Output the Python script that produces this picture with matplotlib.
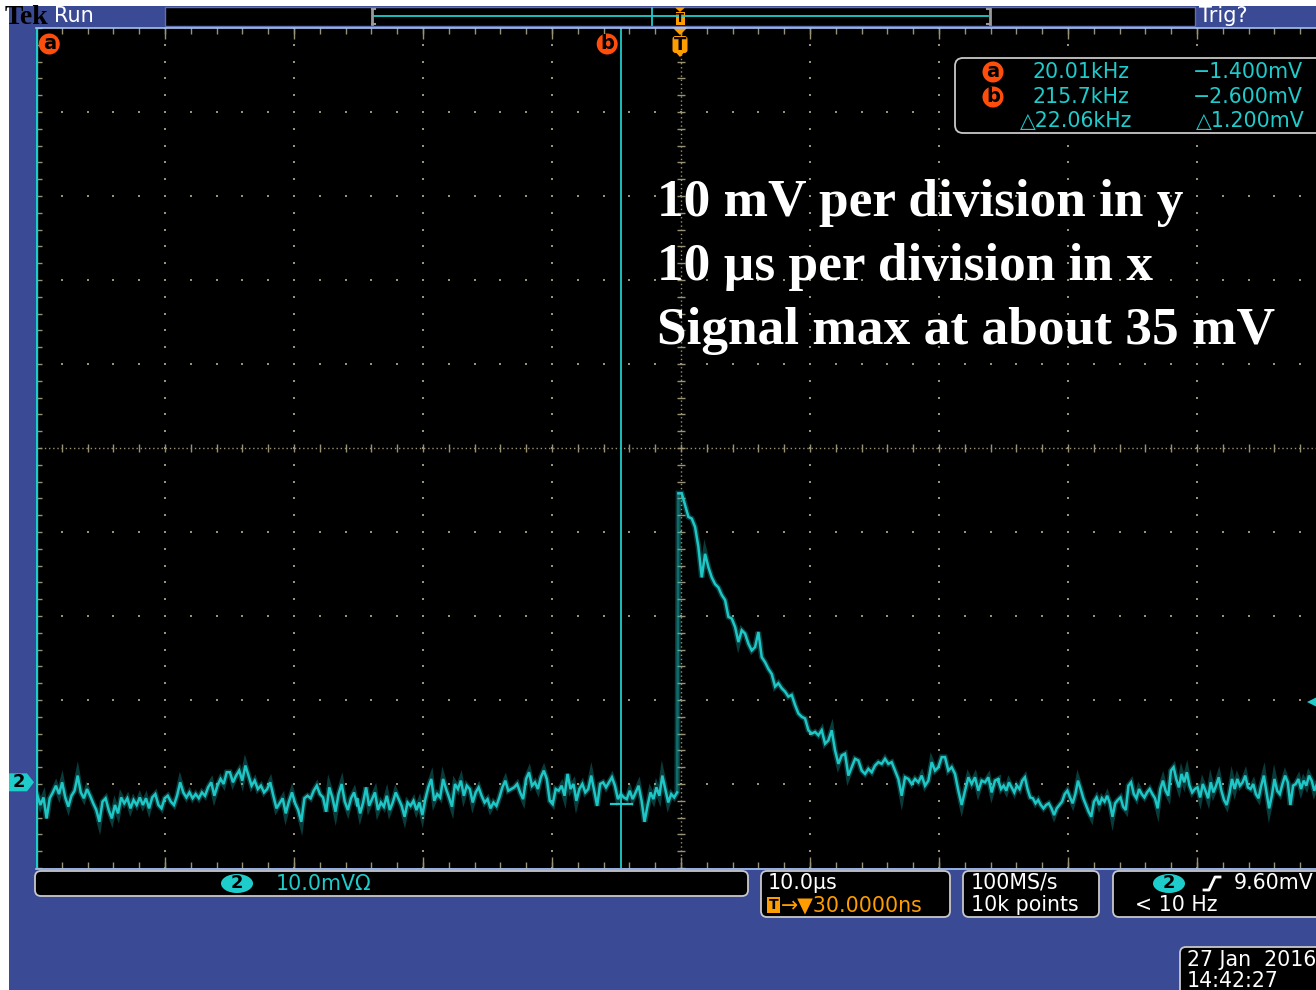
import numpy as np
import matplotlib
matplotlib.use("Agg")
import matplotlib.pyplot as plt
from matplotlib.patches import FancyBboxPatch, Rectangle, Circle, Polygon, Ellipse

# ---- acquisition / display settings ----
MV_PER_DIV = 10.0
US_PER_DIV = 10.0
CH2_POSITION_DIV = -3.98          # channel 2 ground marker, divisions from centre
TRIGGER_LEVEL_MV = 9.60
CURSOR_A_US = -49.98
CURSOR_B_US = -4.636
CURSOR_B_MV = -2.600

# ---- channel 2 record (mV), stored in four consecutive stretches ----
segment_spans_us = [(-49.9, -25.1), (-25.1, -0.3), (-0.2, 24.6), (24.6, 49.3)]

ch2_seg1_mv = [-1.5, -2.7, -1.8, -4.3, -1.9, -1.2, -0.4, -1.4, 0.0, -1.8, -2.9, -1.6, -1.0, 0.8,
               -1.2, -1.9, -0.8, -1.6, -2.5, -3.3, -4.7, -2.3, -1.9, -3.3, -4.3, -2.7, -3.7, -1.8,
               -2.5, -1.9, -3.1, -2.1, -2.7, -1.8, -2.7, -1.9, -3.1, -1.8, -1.4, -2.7, -3.1, -1.9,
               -1.6, -2.3, -2.7, -1.6, 0.0, -1.2, -1.8, -1.2, -1.9, -1.4, -1.9, -1.2, -1.6, -0.6,
               0.0, -1.6, -0.4, 0.4, -0.2, 1.2, 1.2, 0.0, 0.8, 1.4, 0.2, 2.0, 0.8, -0.4, 0.2, -0.8,
               -0.4, -1.2, -0.8, 0.0, -1.6, -3.1, -2.5, -1.9, -3.7, -2.3, -1.2, -2.5, -3.3, -4.7,
               -1.9, -1.6, -1.9, -1.0, -0.4, -1.4, -1.8, -3.5, -0.6, -1.8, -3.5, -1.4, -0.2, -2.3,
               -3.3, -1.9, -1.2, -2.7]

ch2_seg2_mv = [-2.0, -3.7, -2.4, -0.6, -2.8, -2.0, -1.2, -3.3, -2.4, -2.9, -1.6, -3.3, -2.4, -1.2,
               -2.0, -2.8, -4.1, -2.4, -2.8, -2.2, -3.3, -2.4, -3.9, -2.0, -0.6, 0.4, -2.2, -1.4,
               -1.8, 0.4, -0.8, -1.8, -2.9, -0.2, -0.8, 0.2, -1.6, -0.4, -0.8, -2.4, -1.2, -0.6,
               -1.6, -2.4, -2.0, -3.1, -2.4, -2.8, -1.8, -0.6, 0.2, -1.0, -0.8, -0.6, -0.2, -1.2,
               -2.0, 0.4, 1.2, -0.4, 0.0, -0.8, 0.6, 1.4, 0.4, -2.2, -2.6, -0.8, -1.0, -0.4, -1.6,
               1.0, -0.8, -0.2, -2.2, -0.8, -0.2, -1.2, -0.8, 0.8, -1.0, -2.8, -0.2, 0.0, -0.6, 0.0,
               0.6, -0.4, -2.0, -1.4, -1.8, -2.0, -1.0, -2.0, -1.2, -0.4, -2.2, -4.7, -2.8, -1.2,
               -2.0, -0.6, -1.6, 0.8, -0.8, -2.4, -1.4, -1.8, -1.2]

ch2_seg3_mv = [34.4, 34.4, 33.0, 31.6, 31.4, 30.4, 28.0, 24.4, 27.2, 25.6, 24.4, 23.6, 23.2, 22.3,
               21.7, 19.7, 19.5, 18.5, 16.7, 18.1, 17.7, 16.5, 15.7, 16.1, 17.9, 14.9, 14.3, 13.5,
               12.9, 11.4, 11.8, 11.2, 10.8, 10.2, 10.4, 9.2, 8.2, 7.8, 7.6, 6.2, 5.8, 6.0, 5.6,
               6.2, 4.6, 5.0, 6.2, 3.8, 2.2, 3.2, 3.4, 0.8, 1.8, 2.8, 2.6, 1.4, 1.0, 1.6, 1.2, 2.0,
               2.4, 2.2, 2.8, 2.2, 2.4, 1.4, 0.4, -1.6, 0.6, 0.4, -0.2, 0.4, 0.0, 0.8, -0.4, 0.2,
               2.4, 1.4, 1.8, 3.0, 3.0, 1.4, 1.8, 1.0, -1.0, -2.7, -1.0, 0.6, -0.2, 0.6, -1.0, 0.2,
               0.0, 0.6, -1.2, 0.2, 0.4]

ch2_seg4_mv = [0.2, -0.8, -0.4, -1.0, 0.0, -0.6, -1.2, -0.4, -0.8, 0.2, 0.6, -0.8, -1.8, -1.9,
               -2.5, -2.1, -2.7, -3.1, -2.7, -2.5, -3.1, -3.9, -3.1, -2.7, -2.3, -1.4, -1.0, -1.8,
               -2.5, -1.4, 0.2, -0.8, -1.9, -2.7, -3.5, -4.1, -2.3, -1.8, -2.7, -1.9, -2.3, -1.6,
               -2.5, -4.1, -2.5, -2.1, -1.8, -2.9, -3.3, -0.4, 0.0, -1.4, -1.9, -0.8, -1.4, -1.8,
               -1.2, -0.8, -1.4, -1.9, -3.1, -0.8, 0.2, -1.0, -1.6, 1.4, 1.8, 0.4, -0.6, 1.0, 0.0,
               1.2, -0.4, -1.2, -0.8, -0.6, -1.8, -0.2, -1.0, -1.9, 0.0, -1.2, -0.4, 0.6, -1.0,
               -2.1, -2.7, -1.4, 0.4, -0.8, 0.4, -0.4, 0.0, 0.8, -0.6, -0.8, -0.2, -1.4, -1.9,
               -0.4, 0.8, -1.2, -3.1, -1.6, 0.4, -1.0, -1.4, -0.2, 0.8, 0.0, -2.7, -0.4, -0.2, 0.4,
               -0.8, 0.2, -0.4, 0.8, 0.2, -1.0, -0.2]

ch2_segments_mv = [ch2_seg1_mv, ch2_seg2_mv, ch2_seg3_mv, ch2_seg4_mv]

# ---- readouts ----
cursor_rows = [("a", "20.01kHz", "\u22121.400mV"), ("b", "215.7kHz", "\u22122.600mV")]
cursor_delta = ("\u25B322.06kHz", "\u25B31.200mV")
vertical_scale_label = "10.0mV\u03A9"
horizontal_labels = ("10.0\u00B5s", "\u2192\u25BC30.0000ns")
acquisition_labels = ("100MS/s", "10k points")
trigger_labels = ("9.60mV", "< 10 Hz")
date_labels = ("27 Jan  2016", "14:42:27")
annotation_lines = ["10 mV per division in y",
                    "10 \u00B5s per division in x",
                    "Signal max at about 35 mV"]

# ---- colours ----
BLUE = "#3b4a95"
CYAN = "#1fcccc"
TRACE = "#1fc6c6"
ORANGE = "#ff9c00"
CURSOR_RED = "#ff4e0c"
GRID = "#9a9274"
FRAME = "#a6c2ee"
PANEL_EDGE = "#c8c8c8"
UI_FONT = "DejaVu Sans"
UI_FS = 14.8

W, H = 1316, 990
fig = plt.figure(figsize=(W / 100, H / 100), dpi=100, facecolor="white")
fig.add_artist(Rectangle((9 / W, 0), 1, (H - 6) / H, transform=fig.transFigure,
                         facecolor=BLUE, edgecolor="none", zorder=-5))

# ---- graticule / waveform axes ----
GL, GR, GT, GB = 36, 1326, 28, 868
sc = fig.add_axes([GL / W, (H - GB) / H, (GR - GL) / W, (GB - GT) / H], zorder=1)
sc.set_facecolor("black")
x_lo, x_hi = -5 * US_PER_DIV, 5 * US_PER_DIV
y_lo = (-5 - CH2_POSITION_DIV) * MV_PER_DIV
y_hi = (5 - CH2_POSITION_DIV) * MV_PER_DIV
sc.set_xlim(x_lo, x_hi)
sc.set_ylim(y_lo, y_hi)
sc.set_xticks([])
sc.set_yticks([])
for s in sc.spines.values():
    s.set_visible(False)

div = np.arange(-5, 6)
sub = np.arange(-25, 26) / 5.0
major_x = div * US_PER_DIV
major_y = (div - CH2_POSITION_DIV) * MV_PER_DIV
sub_x = sub * US_PER_DIV
sub_y = (sub - CH2_POSITION_DIV) * MV_PER_DIV
centre_y = -CH2_POSITION_DIV * MV_PER_DIV

dot_kw = dict(ls="none", marker="s", ms=1.5, mew=0, color=GRID)
for gx in major_x[1:-1]:
    if gx != 0:
        sc.plot(np.full(sub_y.size, gx), sub_y, **dot_kw)
for gy in major_y[1:-1]:
    if abs(gy - centre_y) > 1e-9:
        sc.plot(sub_x, np.full(sub_x.size, gy), **dot_kw)

# centre cross with subdivision ticks
sc.axhline(centre_y, color=GRID, lw=1.0, ls=(0, (1, 2)))
sc.axvline(0, color=GRID, lw=1.0, ls=(0, (1, 2)))
sc.plot(sub_x, np.full(sub_x.size, centre_y), ls="none", marker="|", ms=6, mew=1.0, color=GRID)
sc.plot(np.zeros(sub_y.size), sub_y, ls="none", marker="_", ms=6, mew=1.0, color=GRID)

# edge ticks
edge_kw = dict(ls="none", mew=1.0, color=GRID)
sc.plot(sub_x, np.full(sub_x.size, y_hi), marker="|", ms=8, **edge_kw)
sc.plot(sub_x, np.full(sub_x.size, y_lo), marker="|", ms=8, **edge_kw)
sc.plot(major_x, np.full(major_x.size, y_hi), marker="|", ms=16, **edge_kw)
sc.plot(major_x, np.full(major_x.size, y_lo), marker="|", ms=16, **edge_kw)
sc.plot(np.full(sub_y.size, x_lo), sub_y, marker="_", ms=8, **edge_kw)

# channel 2 waveform: a soft phosphor band under a sharper core
seg_t = [np.linspace(t0, t1, len(seg)) for (t0, t1), seg in zip(segment_spans_us, ch2_segments_mv)]
seg_v = [np.asarray(seg, dtype=float) for seg in ch2_segments_mv]
t_all = np.concatenate(seg_t)
v_all = np.concatenate(seg_v)
sc.plot(t_all, v_all, color=TRACE, lw=4.0, alpha=0.3, solid_joinstyle="miter", zorder=4)
for i, (t, v) in enumerate(zip(seg_t, seg_v)):
    sc.plot(t, v, color=TRACE, lw=1.8, solid_joinstyle="miter", zorder=5)
    if i + 1 < len(seg_t):
        fast_edge = abs(seg_v[i + 1][0] - v[-1]) > 2 * MV_PER_DIV
        sc.plot([t[-1], seg_t[i + 1][0]], [v[-1], seg_v[i + 1][0]], color=TRACE,
                lw=1.8, alpha=0.35 if fast_edge else 1.0, zorder=5)

# cursors
sc.axvline(CURSOR_A_US, color=CYAN, lw=2.4, zorder=6)
sc.axvline(CURSOR_B_US, color=CYAN, lw=1.3, zorder=6)
sc.plot([CURSOR_B_US - 0.8, CURSOR_B_US + 0.8], [CURSOR_B_MV, CURSOR_B_MV], color=CYAN, lw=1.6, zorder=6)

# trigger level marker on the right edge
sc.plot([x_hi - 1.0], [TRIGGER_LEVEL_MV], marker="<", ms=9, color=CYAN, mew=0, clip_on=False, zorder=7)

# ---- overlay (screen furniture) ----
ui = fig.add_axes([0, 0, 1, 1], zorder=2)
ui.set_xlim(0, W)
ui.set_ylim(H, 0)
ui.axis("off")
ui.patch.set_alpha(0)


def px_from_mv(v):
    return GT + (y_hi - v) / (y_hi - y_lo) * (GB - GT)


def px_from_us(t):
    return GL + (t - x_lo) / (x_hi - x_lo) * (GR - GL)


# graticule frame
ui.plot([GL, W], [GT - 0.5, GT - 0.5], color=FRAME, lw=1.2)
ui.plot([GL, W], [GB + 0.5, GB + 0.5], color=FRAME, lw=1.2)

# top status bar
ui.add_patch(Rectangle((165, 7), 1030, 19, facecolor="black", edgecolor="#5f70b0", lw=1))
ui.text(5, 17, "Tek", fontsize=20, family="Liberation Serif", weight="bold", color="black",
        va="center", ha="left")
ui.text(54, 16, "Run", fontsize=15, family=UI_FONT, color="white", va="center", ha="left")
ui.text(1199, 16, "Trig?", fontsize=15, family=UI_FONT, color="white", va="center", ha="left")
ui.plot([374, 988], [15.5, 15.5], color=CYAN, lw=1.3)
for bx, d in ((372, 1), (990, -1)):
    ui.plot([bx, bx], [9, 24], color="#9a9a9a", lw=2)
    ui.plot([bx, bx + 3 * d], [9, 9], color="#9a9a9a", lw=1.5)
    ui.plot([bx, bx + 3 * d], [24, 24], color="#9a9a9a", lw=1.5)
ui.plot([652, 652], [8, 25], color=CYAN, lw=1.3)

trig_x = px_from_us(0.0) - 1
ui.add_patch(Polygon([(trig_x - 5, 7.5), (trig_x + 5, 7.5), (trig_x, 12)], closed=True,
                     facecolor=ORANGE, edgecolor="none"))
ui.add_patch(Rectangle((trig_x - 4.5, 12), 9, 13, facecolor=ORANGE, edgecolor="none"))
ui.text(trig_x, 18.5, "T", fontsize=8.5, weight="bold", family=UI_FONT, color="black",
        ha="center", va="center")
ui.add_patch(Polygon([(trig_x - 8, 27), (trig_x + 8, 27), (trig_x, 35)], closed=True,
                     facecolor=ORANGE, edgecolor="none"))
ui.add_patch(FancyBboxPatch((trig_x - 7.5, 36), 15, 17, boxstyle="round,pad=0,rounding_size=3",
                            facecolor=ORANGE, edgecolor="none"))
ui.add_patch(Polygon([(trig_x - 4, 52.5), (trig_x + 4, 52.5), (trig_x, 57)], closed=True,
                     facecolor=ORANGE, edgecolor="none"))
ui.text(trig_x, 44.5, "T", fontsize=13, weight="bold", family=UI_FONT, color="black",
        ha="center", va="center")


def cursor_badge(x, y, letter, r=10.5):
    ui.add_patch(Circle((x, y), r, facecolor=CURSOR_RED, edgecolor="none"))
    ui.text(x, y - 0.5, letter, fontsize=14, weight="bold", family=UI_FONT, color="black",
            ha="center", va="center")


cursor_badge(px_from_us(CURSOR_A_US) + 13, 44, "a")
cursor_badge(px_from_us(CURSOR_B_US) - 14, 44, "b")

# ground marker for channel 2
gy = px_from_mv(0.0)
ui.add_patch(Polygon([(9, gy - 9), (27, gy - 9), (34, gy), (27, gy + 9), (9, gy + 9)], closed=True,
                     facecolor=CYAN, edgecolor="none", joinstyle="round"))
ui.text(19, gy, "2", fontsize=13, weight="bold", family=UI_FONT, color="black",
        ha="center", va="center")

# cursor readout box
ui.add_patch(FancyBboxPatch((955, 58), 380, 75, boxstyle="round,pad=0,rounding_size=8",
                            facecolor="black", edgecolor=PANEL_EDGE, lw=1.3))
row_y = [72, 97]
for (letter, freq, volt), yy in zip(cursor_rows, row_y):
    cursor_badge(993, yy, letter)
    ui.text(1032, yy, freq, fontsize=UI_FS, family=UI_FONT, color=CYAN, ha="left", va="center")
    ui.text(1303, yy, volt, fontsize=UI_FS, family=UI_FONT, color=CYAN, ha="right", va="center")
ui.text(1020, 121, cursor_delta[0], fontsize=UI_FS, family=UI_FONT, color=CYAN, ha="left", va="center")
ui.text(1305, 121, cursor_delta[1], fontsize=UI_FS, family=UI_FONT, color=CYAN, ha="right", va="center")

# annotation
for i, line in enumerate(annotation_lines):
    ui.text(657, 203 + 64 * i, line, fontsize=38.4, family="Liberation Serif", weight="bold",
            color="white", ha="left", va="center")


# bottom panels
def panel(x0, y0, x1, y1):
    ui.add_patch(FancyBboxPatch((x0, y0), x1 - x0, y1 - y0, boxstyle="round,pad=0,rounding_size=6",
                                facecolor="black", edgecolor=PANEL_EDGE, lw=1.3))


def ch_badge(x, y):
    ui.add_patch(Ellipse((x, y), 32, 19, facecolor=CYAN, edgecolor="none"))
    ui.text(x, y, "2", fontsize=13, weight="bold", family=UI_FONT, color="black",
            ha="center", va="center")


panel(35, 871, 748, 896)
ch_badge(237, 883.5)
ui.text(276, 884, vertical_scale_label, fontsize=UI_FS, family=UI_FONT, color=CYAN, ha="left", va="center")

panel(761, 871, 950, 917)
ui.text(768, 883, horizontal_labels[0], fontsize=UI_FS, family=UI_FONT, color="white", ha="left", va="center")
ui.add_patch(Rectangle((767, 897), 13, 16, facecolor=ORANGE, edgecolor="none"))
ui.text(773.5, 905, "T", fontsize=10, weight="bold", family=UI_FONT, color="black", ha="center", va="center")
ui.text(781, 905, horizontal_labels[1], fontsize=UI_FS, family=UI_FONT, color=ORANGE, ha="left", va="center")

panel(963, 871, 1099, 917)
ui.text(971, 883, acquisition_labels[0], fontsize=UI_FS, family=UI_FONT, color="white", ha="left", va="center")
ui.text(971, 905, acquisition_labels[1], fontsize=UI_FS, family=UI_FONT, color="white", ha="left", va="center")

panel(1113, 871, 1340, 917)
ch_badge(1169, 883.5)
ui.plot([1204, 1209, 1215, 1220], [890, 890, 877, 877], color="white", lw=2)
ui.text(1234, 883, trigger_labels[0], fontsize=UI_FS, family=UI_FONT, color="white", ha="left", va="center")
ui.text(1135, 905, trigger_labels[1], fontsize=UI_FS, family=UI_FONT, color="white", ha="left", va="center")

panel(1180, 947, 1340, 1000)
ui.text(1187, 960, date_labels[0], fontsize=UI_FS, family=UI_FONT, color="white", ha="left", va="center")
ui.text(1187, 981, date_labels[1], fontsize=UI_FS, family=UI_FONT, color="white", ha="left", va="center")

fig.savefig("out.png", dpi=100, facecolor=fig.get_facecolor())
